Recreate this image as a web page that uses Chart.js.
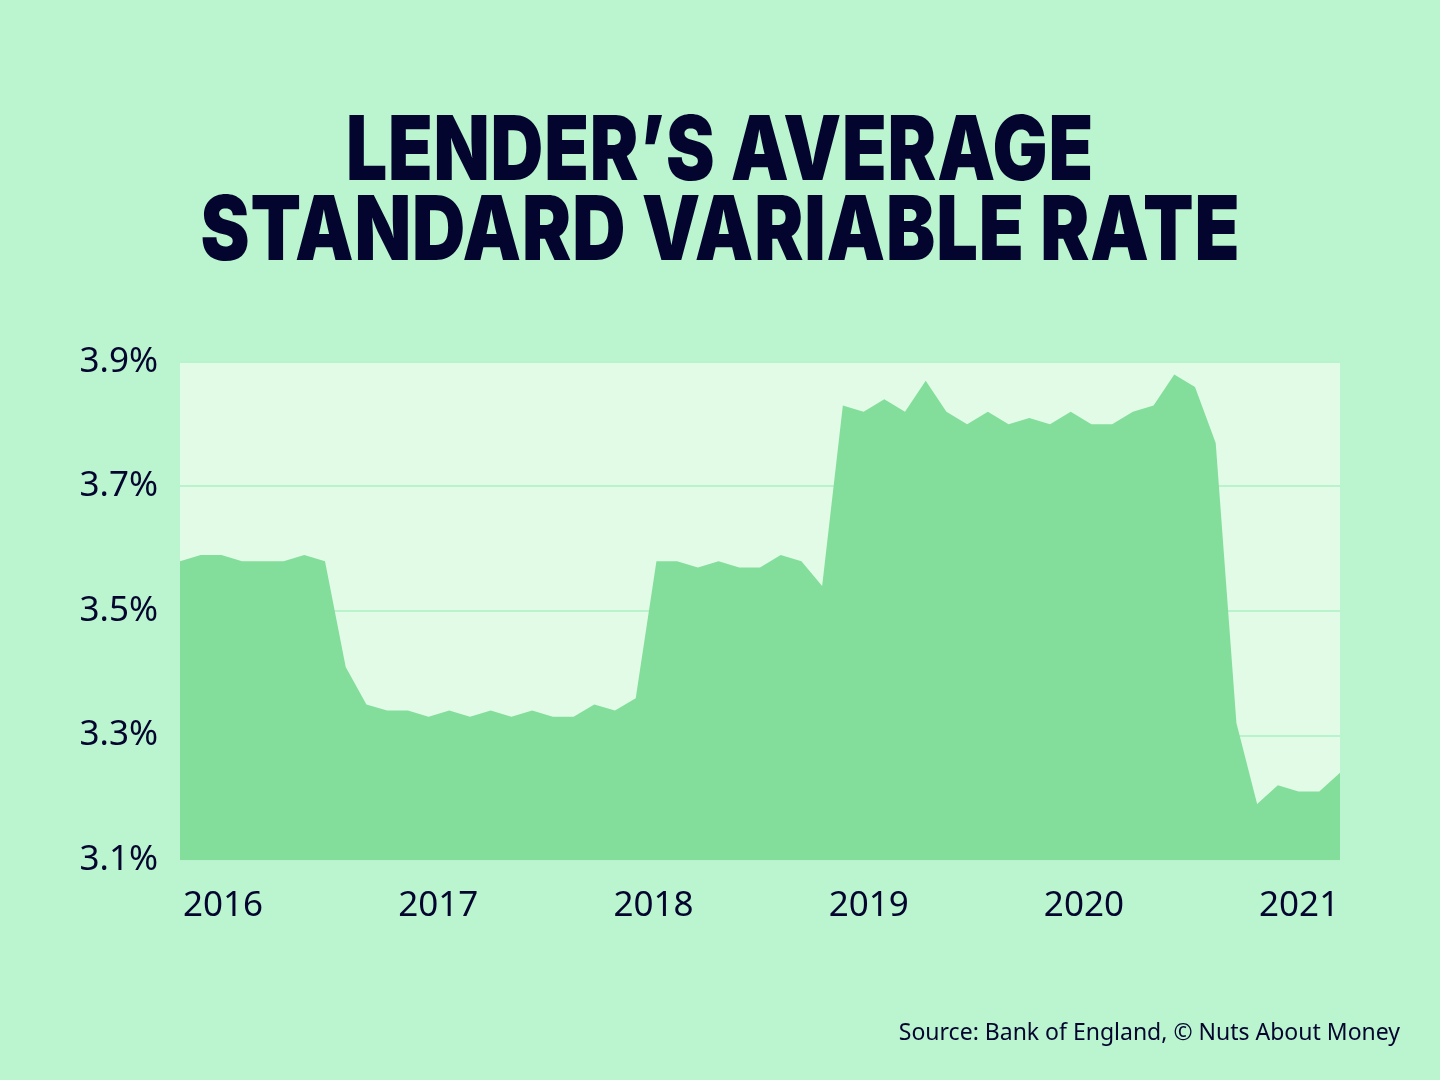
<!DOCTYPE html>
<html>
<head>
<meta charset="utf-8">
<script src="https://cdn.jsdelivr.net/npm/chart.js@4/dist/chart.umd.min.js"></script>
<style>
  html, body { margin: 0; padding: 0; background: #bbf5d0; }
  #wrap { position: relative; width: 1440px; height: 1080px; overflow: hidden; }
  #title {
    position: absolute; left: 0; top: 108px; width: 1440px;
    text-align: center; color: #03052e;
    font-family: Inter, "DejaVu Sans", sans-serif; font-weight: 900;
    font-size: 90px; line-height: 80px; letter-spacing: 1px;
  }
  #title span { display: inline-block; white-space: nowrap; transform-origin: center; }
  #source {
    position: absolute; right: 40px; top: 1015px;
    font-family: "Noto Sans", sans-serif; font-size: 23px; color: #03052e;
  }
  canvas { position: absolute; left: 0; top: 0; }
</style>
</head>
<body>
<div id="wrap">
  <div id="title"><span id="t1">LENDER’S AVERAGE</span><br><span id="t2">STANDARD VARIABLE RATE</span></div>
  <canvas id="chart" width="1440" height="1080"></canvas>
  <div id="source">Source: Bank of England, © Nuts About Money</div>
</div>
<script>
// 数据：平均标准浮动利率 (%)
const rates = [
    3.58, 3.59, 3.59, 3.58, 3.58, 3.58, 3.59, 3.58, 3.41, 3.35,
    3.34, 3.34, 3.33, 3.34, 3.33, 3.34, 3.33, 3.34, 3.33, 3.33,
    3.35, 3.34, 3.36, 3.58, 3.58, 3.57, 3.58, 3.57, 3.57, 3.59,
    3.58, 3.54, 3.83, 3.82, 3.84, 3.82, 3.87, 3.82, 3.80, 3.82,
    3.80, 3.81, 3.80, 3.82, 3.80, 3.80, 3.82, 3.83, 3.88, 3.86,
    3.77, 3.32, 3.19, 3.22, 3.21, 3.21, 3.24
];
const years = ['2016', '2017', '2018', '2019', '2020', '2021'];
const yTicks = [3.1, 3.3, 3.5, 3.7, 3.9];

const ink = '#03052e';
const tickFont = { family: '"Noto Sans", sans-serif', size: 35 };

// 标题按参考宽度拉伸
function fitTitle(id, target) {
    const el = document.getElementById(id);
    const w = el.getBoundingClientRect().width;
    el.style.transform = `scaleX(${target / w})`;
}
fitTitle('t1', 748);
fitTitle('t2', 1040);

// 绘图区背景
const plotBg = {
    id: 'plotBg',
    beforeDraw(chart) {
        const { ctx, chartArea: a } = chart;
        ctx.save();
        ctx.fillStyle = '#e2fbe6';
        ctx.fillRect(a.left, a.top, a.right - a.left, a.bottom - a.top);
        ctx.restore();
    }
};

new Chart(document.getElementById('chart'), {
    type: 'line',
    data: {
        labels: rates.map((_, i) => i),
        datasets: [{
            data: rates,
            backgroundColor: '#83de9b',
            borderWidth: 0,
            pointRadius: 0,
            tension: 0,
            fill: 'start'
        }]
    },
    options: {
        responsive: false,
        animation: false,
        layout: { padding: { left: 0, right: 100, top: 362, bottom: 140 } },
        plugins: { legend: { display: false }, tooltip: { enabled: false } },
        scales: {
            x: { display: false, offset: false },
            yr: {
                type: 'linear',
                position: 'bottom',
                min: 2015.8,
                max: 2021.19,
                afterBuildTicks: scale => { scale.ticks = years.map(y => ({ value: +y })); },
                afterFit: scale => { scale.height = 80; },
                grid: { display: false },
                border: { display: false },
                ticks: {
                    color: ink,
                    font: tickFont,
                    padding: 17,
                    maxRotation: 0,
                    autoSkip: false,
                    callback: v => String(v)
                }
            },
            y: {
                min: 3.1,
                max: 3.9,
                z: 1,
                afterBuildTicks: scale => { scale.ticks = yTicks.map(v => ({ value: v })); },
                afterFit: scale => { scale.width = 180; },
                grid: { color: '#b9f3cc', lineWidth: 2, drawTicks: false },
                border: { display: false },
                ticks: {
                    color: ink,
                    font: tickFont,
                    padding: 22,
                    callback: v => v.toFixed(1) + '%'
                }
            }
        }
    },
    plugins: [plotBg]
});
</script>
</body>
</html>
